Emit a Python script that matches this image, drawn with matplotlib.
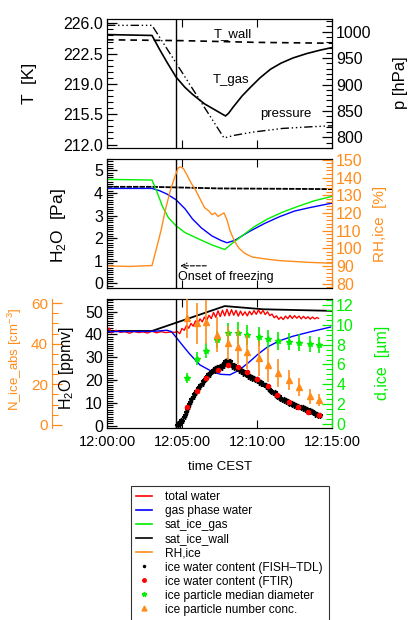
import numpy as np
import matplotlib.pyplot as plt
from matplotlib.lines import Line2D
from matplotlib.ticker import MultipleLocator, FixedLocator, FormatStrFormatter

plt.rcParams['font.family'] = ['Liberation Sans', 'DejaVu Sans']
plt.rcParams['mathtext.fontset'] = 'custom'
plt.rcParams['mathtext.rm'] = 'Liberation Sans'

ORANGE = '#ff8c1a'
GREEN = '#00ee00'

# ---- panel 1: temperatures and pressure (time in minutes after 12:00:00)
tgas_t = [0, 3.0, 3.5, 4.0, 4.6, 5.2, 5.7, 6.5, 7.3, 7.9, 8.1, 8.4, 9.0, 9.5, 10.2, 10.9, 11.6, 12.4, 13.3, 14.2, 15]
tgas_v = [224.7, 224.6, 223.0, 221.5, 219.8, 218.6, 217.8, 216.7, 215.9, 215.3, 215.6, 216.3, 217.6, 218.5, 219.7,
          220.7, 221.4, 222.0, 222.5, 222.9, 223.2]
twall_t = [0, 5, 10, 15]
twall_v = [224.1, 224.0, 223.8, 223.7]
pres_t = [0, 3.0, 7.8, 8.5, 9.7, 11.7, 13.5, 15]
pres_v = [1012, 1012, 799, 804, 810, 817, 820, 822]

# ---- panel 2: partial pressures (Pa) and RH ice (%)
sat_gas_t = [0, 3.0, 3.3, 3.7, 4.1, 4.6, 5.2, 6.0, 7.0, 7.85, 8.3, 9.0, 9.8, 10.7, 11.7, 12.7, 13.8, 15]
sat_gas_v = [4.6, 4.57, 4.1, 3.4, 2.9, 2.55, 2.25, 2.0, 1.7, 1.5, 1.75, 2.1, 2.5, 2.85, 3.15, 3.4, 3.65, 3.85]
gas_pa_t = [0, 3.0, 3.5, 4.0, 4.6, 5.2, 5.7, 6.3, 7.0, 7.6, 8.0, 8.5, 9.0, 9.5, 10.5, 11.5, 12.5, 13.5, 15]
gas_pa_v = [4.2, 4.2, 4.1, 3.95, 3.7, 3.3, 2.85, 2.45, 2.1, 1.9, 1.8, 1.9, 2.1, 2.3, 2.65, 2.95, 3.2, 3.35, 3.55]
sat_wall_t = [0, 3, 7.5, 15]
sat_wall_v = [4.27, 4.27, 4.2, 4.17]
rh_t = [0, 1.5, 3.0, 3.3, 3.6, 3.9, 4.2, 4.5, 4.75, 4.9, 5.1, 5.3, 5.6, 5.9, 6.2, 6.5, 6.8, 7.0, 7.2, 7.4, 7.6,
        7.8, 8.0, 8.2, 8.5, 8.8, 9.2, 9.7, 10.5, 11.5, 12.5, 13.5, 15]
rh_v = [90, 89.7, 90.2, 100, 110, 122, 132, 140, 145.5, 146, 145, 142, 137, 133, 128, 123, 121, 119, 120, 118, 119,
        120, 116, 110, 104, 100, 97, 95, 94, 93, 92.5, 92, 91.5]

# ---- panel 3: water in ppmv, ice particles
wall_ppm_t = [0, 3.0, 7.85, 10.4, 15]
wall_ppm_v = [41.5, 41.5, 52.4, 51.0, 50.3]
gas_ppm_t = [0, 3.0, 4.0, 4.3, 4.6, 5.0, 5.5, 6.2, 7.1, 7.6, 8.2, 8.8, 9.5, 10.1, 10.7, 11.5, 12.4, 13.6, 14.9]
gas_ppm_v = [41.2, 41.3, 41.8, 41.2, 38.8, 35.5, 31.5, 26.6, 23.4, 22.5, 22.3, 24.3, 28.0, 31.5, 34.5, 37.2, 39.2, 41.2, 43.2]
tot_t = [0.0, 0.15, 0.3, 0.6, 0.9, 1.2, 1.5, 1.8, 2.1, 2.4, 2.7, 3.0, 3.3, 3.6, 3.9, 4.2, 4.5,
         4.7, 4.85, 5.0, 5.15, 5.3, 5.45, 5.6, 5.75, 5.9, 6.05, 6.2, 6.35, 6.5, 6.65, 6.8, 6.95, 7.1, 7.25,
         7.4, 7.55, 7.7, 7.85, 8.0, 8.15, 8.3, 8.45, 8.6, 8.75, 8.9, 9.05, 9.2, 9.35, 9.5, 9.65, 9.8, 9.95,
         10.1, 10.25, 10.4, 10.55, 10.7, 10.85, 11.0, 11.15, 11.3, 11.45, 11.6, 11.75, 11.9, 12.05, 12.2,
         12.35, 12.5, 12.65, 12.8, 12.95, 13.1, 13.25, 13.4, 13.55, 13.7, 13.85, 14.0, 14.1]
tot_v = [41.5, 42.8, 40.6, 41.8, 40.9, 41.2, 40.5, 41.3, 40.8, 41.1, 40.6, 41.4, 40.7, 41.2, 40.8, 41.0, 40.9,
         41.2, 40.3, 42.6, 41.8, 43.9, 42.7, 44.8, 43.6, 45.9, 44.7, 46.8, 45.5, 47.6, 46.2, 48.4, 46.9, 49.6, 47.5,
         50.3, 47.8, 50.6, 48.1, 51.0, 48.2, 50.8, 48.4, 50.5, 48.0, 50.2, 48.3, 49.9, 48.1, 50.1, 48.6, 50.4, 48.8,
         50.7, 49.0, 50.5, 48.7, 49.9, 48.2, 48.9, 47.3, 48.1, 46.6, 47.6, 46.5, 48.0, 46.9, 48.3,
         47.0, 48.2, 47.1, 48.0, 46.8, 47.9, 46.9, 47.7, 46.7, 47.6, 46.8, 47.4, 47.0]
iwc_t = [4.65, 4.72, 4.80, 4.88, 4.95, 5.02, 5.10, 5.18, 5.25, 5.32, 5.40, 5.48, 5.55, 5.62, 5.70, 5.78, 5.85,
         5.92, 6.00, 6.08, 6.15, 6.22, 6.30, 6.38, 6.45, 6.52, 6.60, 6.68, 6.75, 6.82, 6.90, 6.98, 7.05, 7.12,
         7.20, 7.28, 7.35, 7.42, 7.50, 7.58, 7.65, 7.72, 7.80, 7.88, 7.95, 8.02, 8.10, 8.18, 8.25, 8.32, 8.40,
         8.48, 8.55, 8.62, 8.70, 8.78, 8.85, 8.92, 9.00, 9.08, 9.15, 9.22, 9.30, 9.38, 9.45, 9.52, 9.60, 9.68,
         9.75, 9.82, 9.90, 9.98, 10.05, 10.12, 10.20, 10.28, 10.35, 10.42, 10.50, 10.58, 10.65, 10.72, 10.80,
         10.88, 10.95, 11.02, 11.10, 11.18, 11.25, 11.32, 11.40, 11.48, 11.55, 11.62, 11.70, 11.78, 11.85,
         11.92, 12.00, 12.08, 12.15, 12.22, 12.30, 12.38, 12.45, 12.52, 12.60, 12.68, 12.75, 12.82, 12.90,
         12.98, 13.05, 13.12, 13.20, 13.28, 13.35, 13.42, 13.50, 13.58, 13.65, 13.72, 13.80, 13.88, 13.95,
         14.02, 14.10, 14.18]
iwc_v = [0.5, 1.2, 0.3, 1.8, 2.5, 2.0, 3.8, 4.5, 6.0, 7.2, 8.0, 9.5, 10.2, 11.8, 12.5, 13.8, 14.2,
         15.0, 15.3, 16.4, 16.9, 17.8, 18.3, 19.5, 20.1, 20.6, 21.4, 21.9, 22.6, 22.3, 23.4, 23.9, 24.6, 23.8,
         25.2, 24.4, 25.7, 25.0, 26.1, 25.3, 26.6, 26.0, 27.4, 28.2, 27.6, 28.8, 27.9, 28.4, 27.1, 26.4, 25.8,
         26.5, 25.4, 25.9, 24.8, 25.3, 24.1, 24.6, 23.4, 23.9, 22.7, 23.1, 22.0, 22.4, 21.3, 21.8, 20.9, 21.2,
         20.4, 20.7, 19.9, 20.3, 19.4, 19.7, 18.6, 19.0, 18.1, 18.4, 17.7, 17.9, 17.1, 16.8, 16.2,
         15.7, 15.1, 14.8, 14.2, 14.6, 13.5, 13.1, 12.7, 12.9, 12.1, 11.8, 11.4, 11.7, 10.9,
         11.2, 10.4, 10.7, 10.0, 9.6, 9.9, 9.1, 9.4, 8.8, 9.0, 8.4, 8.7, 8.0, 8.3,
         7.7, 8.0, 7.4, 7.6, 7.0, 7.3, 6.6, 6.9, 6.2, 6.5, 5.8, 5.4, 5.7, 4.9,
         5.2, 4.4, 4.7]
ftir_t = [5.3, 6.0, 6.6, 7.4, 8.05, 8.7, 9.3, 10.0, 10.7, 11.35, 12.1, 12.75, 13.4, 14.1]
ftir_v = [8.0, 15.0, 21.0, 24.5, 26.5, 25.5, 23.5, 20.5, 17.6, 13.3, 10.6, 8.4, 6.2, 4.5]
dice_t = [5.3, 6.0, 6.6, 7.3, 8.05, 8.7, 9.3, 10.1, 10.75, 11.4, 12.1, 12.8, 13.5, 14.1]
dice_v = [4.6, 6.6, 7.4, 8.5, 9.2, 9.2, 9.0, 8.8, 8.6, 8.4, 8.3, 8.2, 8.1, 8.0]
dice_e = [0.5, 0.7, 0.75, 0.85, 1.0, 1.1, 1.0, 0.95, 0.9, 0.9, 0.85, 0.85, 0.8, 0.8]
nice_t = dice_t
nice_v = [52.6, 50.0, 50.7, 44.3, 40.3, 38.4, 35.9, 32.8, 29.5, 25.6, 22.1, 18.7, 14.2, 12.3]
nice_e = [10.0, 10.0, 10.7, 8.6, 8.2, 8.6, 8.2, 8.6, 8.2, 7.0, 4.9, 4.5, 3.7, 2.9]

t_ticks = [212.0, 215.5, 219.0, 222.5, 226.0]
onset = 4.62
xticks = [0, 5, 10, 15]
xticklabels = ['12:00:00', '12:05:00', '12:10:00', '12:15:00']

W, H = 412, 620
fig = plt.figure(figsize=(W / 100, H / 100), dpi=100)


def box(top, bottom, left=107, right=332):
    return [left / W, 1 - bottom / H, (right - left) / W, (bottom - top) / H]


def style(ax, major, minor, color='k', fmt=None, size=11.5):
    if np.iterable(major):
        ax.yaxis.set_major_locator(FixedLocator(major))
    else:
        ax.yaxis.set_major_locator(MultipleLocator(major))
    if np.iterable(minor):
        ax.yaxis.set_minor_locator(FixedLocator(minor))
    else:
        ax.yaxis.set_minor_locator(MultipleLocator(minor))
    if fmt:
        ax.yaxis.set_major_formatter(FormatStrFormatter(fmt))
    kw = dict(direction='in', colors=color, labelsize=size, pad=3)
    ax.tick_params(axis='y', which='major', length=7, width=0.9, **kw)
    ax.tick_params(axis='y', which='minor', length=4, width=0.8, **kw)


def xstyle(ax, labels=False):
    ax.set_xlim(0, 15)
    ax.set_xticks(xticks)
    ax.set_xticklabels(xticklabels if labels else [])
    ax.tick_params(axis='x', which='major', direction='in', length=6, top=True, labelsize=10.5, pad=5)


ax1 = fig.add_axes(box(19, 148))
ax2 = fig.add_axes(box(159, 288))
ax3 = fig.add_axes(box(299, 428))

# panel 1
ax1.plot(tgas_t, tgas_v, color='k', lw=1.2)
ax1.plot(twall_t, twall_v, color='k', lw=1.2, ls=(0, (4, 3)))
ax1.set_ylim(211.6, 226.5)
style(ax1, t_ticks, [212.0 + 0.7 * i for i in range(-1, 22)], fmt='%.1f')
ax1p = ax1.twinx()
ax1p.plot(pres_t, pres_v, color='k', lw=1.0, ls=(0, (6, 2, 1, 2, 1, 2, 1, 2)))
ax1p.set_ylim(780, 1024)
style(ax1p, 50, 10)
ax1.text(8.4, 224.8, 'T_wall', fontsize=9.5, ha='center', va='center')
ax1.text(8.3, 219.5, 'T_gas', fontsize=9.5, ha='center', va='center')
ax1.text(11.9, 215.5, 'pressure', fontsize=9.5, ha='center', va='center')

# panel 2
ax2.plot(sat_wall_t, sat_wall_v, color='k', lw=1.3, ls=(0, (3, 0.6)))
ax2.plot(gas_pa_t, gas_pa_v, color='#0000ff', lw=1.0)
ax2.plot(sat_gas_t, sat_gas_v, color=GREEN, lw=1.0)
ax2.set_ylim(-0.2, 5.5)
style(ax2, 1, 0.1)
ax2r = ax2.twinx()
ax2r.plot(rh_t, rh_v, color=ORANGE, lw=1.0)
ax2r.set_ylim(77.5, 150.5)
style(ax2r, 10, 2, color=ORANGE)
ax2r.spines['right'].set_color(ORANGE)
ax2.annotate('', xy=(4.7, 0.78), xytext=(6.8, 0.78),
             arrowprops=dict(arrowstyle='->', lw=0.8, ls='--', color='k'))
ax2.text(4.7, 0.3, 'Onset of freezing', fontsize=9, ha='left', va='center')

# panel 3
ax3.plot(wall_ppm_t, wall_ppm_v, color='k', lw=1.3)
ax3.plot(tot_t, tot_v, color='#ff0000', lw=1.0)
ax3.plot(gas_ppm_t, gas_ppm_v, color='#0000ff', lw=1.0)
ax3.plot(iwc_t, iwc_v, ls='none', marker='*', ms=3.5, color='k')
ax3.plot(ftir_t, ftir_v, ls='none', marker='o', ms=3, color='#ff0000')
ax3.set_ylim(-1, 55.5)
style(ax3, 10, 1)

ax3d = ax3.twinx()
ax3d.errorbar(dice_t, dice_v, yerr=dice_e, fmt='*', ms=4, color=GREEN, ecolor=GREEN, elinewidth=1.2, capsize=0)
ax3d.set_ylim(-0.4, 12.6)
style(ax3d, 2, 0.5, color=GREEN)
ax3d.spines['right'].set_color(GREEN)

ax3n = ax3.twinx()
ax3n.errorbar(nice_t, nice_v, yerr=nice_e, fmt='^', ms=4, color=ORANGE, ecolor=ORANGE, elinewidth=1.2, capsize=0)
ax3n.set_ylim(-1.5, 62)
ax3n.spines['left'].set_position(('axes', -0.244))
ax3n.spines['left'].set_visible(True)
ax3n.spines['left'].set_color(ORANGE)
ax3n.spines['right'].set_visible(False)
ax3n.spines['top'].set_visible(False)
ax3n.spines['bottom'].set_visible(False)
ax3n.yaxis.set_ticks_position('left')
ax3n.yaxis.set_label_position('left')
style(ax3n, 20, 5, color=ORANGE, size=11)
ax3n.set_zorder(ax3.get_zorder() + 2)

for ax in (ax1, ax2, ax3):
    ax.axvline(onset, color='k', lw=1.0)
for ax, lab in ((ax1, False), (ax2, False), (ax3, True)):
    xstyle(ax, lab)
for ax in (ax1p, ax2r, ax3d, ax3n):
    ax.set_xlim(0, 15)


# axis labels
def ylab(x, y, s, color='k', size=12):
    fig.text(x / W, 1 - y / H, s, rotation=90, ha='center', va='center', color=color, fontsize=size)


ylab(30, 83, 'T  [K]', size=12.5)
ylab(400, 83, 'p [hPa]', size=12)
ylab(59, 226, 'H$_2$O  [Pa]', size=12.5)
ylab(380, 224, 'RH,ice  [%]', color=ORANGE, size=11)
ylab(15, 359, 'N_ice_abs [cm$^{-3}$]', color=ORANGE, size=9.5)
ylab(67, 368, 'H$_2$O [ppmv]', size=11.5)
ylab(382, 363, 'd,ice  [µm]', color=GREEN, size=11.5)
fig.text(220 / W, 1 - 467 / H, 'time CEST', ha='center', va='center', fontsize=9.5)

# legend
handles = [
    Line2D([], [], color='#ff0000', lw=1.2),
    Line2D([], [], color='#0000ff', lw=1.2),
    Line2D([], [], color=GREEN, lw=1.2),
    Line2D([], [], color='k', lw=1.2),
    Line2D([], [], color=ORANGE, lw=1.2),
    Line2D([], [], ls='none', marker='.', ms=3, color='k'),
    Line2D([], [], ls='none', marker='o', ms=2.5, color='#ff0000'),
    Line2D([], [], ls='none', marker='*', ms=3.5, color=GREEN),
    Line2D([], [], ls='none', marker='^', ms=3.5, color=ORANGE),
]
labels = ['total water', 'gas phase water', 'sat_ice_gas', 'sat_ice_wall', 'RH,ice',
          'ice water content (FISH\u2013TDL)', 'ice water content (FTIR)',
          'ice particle median diameter', 'ice particle number conc.']
leg = fig.legend(handles, labels, loc='upper left', bbox_to_anchor=(131 / W, 0, 198 / W, 1 - 486 / H),
                 mode='expand', fontsize=8.6, frameon=True, fancybox=False, handlelength=1.3,
                 handletextpad=1.1, labelspacing=0.17, borderpad=0.45, borderaxespad=0)
leg.get_frame().set_edgecolor('k')
leg.get_frame().set_linewidth(0.8)

fig.savefig('out.png', dpi=100)
